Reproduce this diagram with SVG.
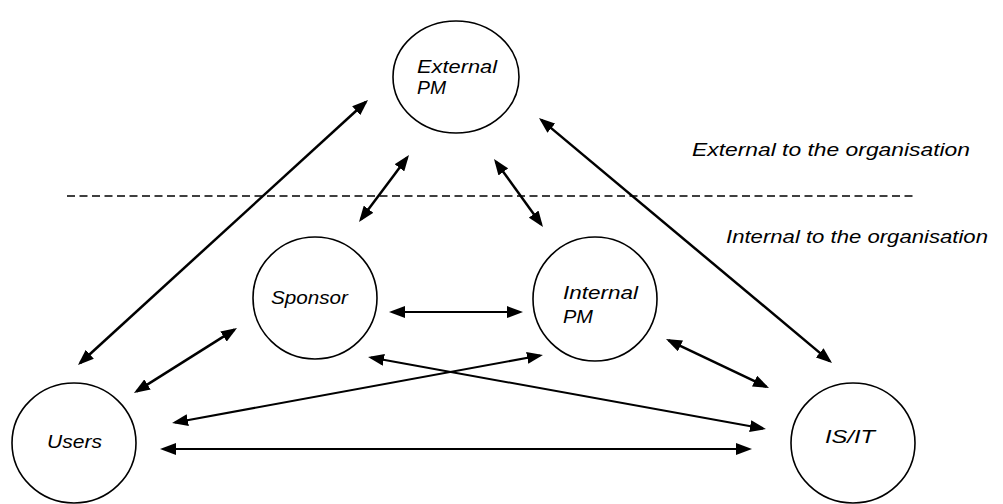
<svg xmlns="http://www.w3.org/2000/svg" width="1003" height="504" viewBox="0 0 1003 504">
<style>
.node{fill:#fff;stroke:#000;stroke-width:1.6}
.lbl{font-family:"Liberation Sans",Arial,sans-serif;font-size:19px;font-style:italic;fill:#000}
.a{fill:none;stroke:#000;stroke-width:2.5;marker-start:url(#ah);marker-end:url(#ah)}
.b{fill:none;stroke:#000;stroke-width:2;marker-start:url(#ah);marker-end:url(#ah)}
.dash{stroke:#000;stroke-width:1.5;stroke-dasharray:8 4.5}
</style>
<defs>
<marker id="ah" markerUnits="userSpaceOnUse" markerWidth="17" markerHeight="12" refX="13" refY="6" orient="auto-start-reverse">
<path d="M0,0 L16,6 L0,12 z" fill="#000"/>
</marker>
</defs>
<rect width="1003" height="504" fill="#fff"/>
<line class="dash" x1="67" y1="196" x2="917" y2="196"/>
<text class="lbl" x="692" y="156" textLength="278" lengthAdjust="spacingAndGlyphs">External to the organisation</text>
<text class="lbl" x="726" y="243" textLength="262" lengthAdjust="spacingAndGlyphs">Internal to the organisation</text>
<g id="connectors">
<line class="a" x1="80.2" y1="363" x2="365.8" y2="102"/>
<line class="a" x1="541.3" y1="119.9" x2="829.7" y2="361.1"/>
<line class="a" x1="407.2" y1="157.4" x2="360.8" y2="219.6"/>
<line class="a" x1="495.75" y1="161.4" x2="541.25" y2="224.6"/>
<line class="b" x1="392" y1="312" x2="520" y2="312"/>
<line class="a" x1="234.5" y1="329.6" x2="136.5" y2="391.4"/>
<line class="a" x1="668.7" y1="340.3" x2="766.3" y2="386.7"/>
<line class="b" x1="371" y1="357.5" x2="763" y2="428.5"/>
<line class="b" x1="175" y1="422.5" x2="540" y2="355.5"/>
<line class="b" x1="163" y1="449" x2="749" y2="449"/>
</g>
<g id="external-pm">
<ellipse class="node" cx="456" cy="77" rx="63" ry="56"/>
<text class="lbl" x="417" y="73" textLength="80" lengthAdjust="spacingAndGlyphs">External</text>
<text class="lbl" x="417" y="94" textLength="29" lengthAdjust="spacingAndGlyphs">PM</text>
</g>
<g id="sponsor">
<ellipse class="node" cx="315" cy="298" rx="62" ry="61"/>
<text class="lbl" x="271" y="304" textLength="77" lengthAdjust="spacingAndGlyphs">Sponsor</text>
</g>
<g id="internal-pm">
<ellipse class="node" cx="595" cy="299" rx="62" ry="62"/>
<text class="lbl" x="563" y="299" textLength="75" lengthAdjust="spacingAndGlyphs">Internal</text>
<text class="lbl" x="563" y="323" textLength="30" lengthAdjust="spacingAndGlyphs">PM</text>
</g>
<g id="users">
<ellipse class="node" cx="74" cy="443" rx="62" ry="60"/>
<text class="lbl" x="47" y="448" textLength="55" lengthAdjust="spacingAndGlyphs">Users</text>
</g>
<g id="is-it">
<ellipse class="node" cx="853" cy="443" rx="62" ry="60"/>
<text class="lbl" x="825" y="443" textLength="50" lengthAdjust="spacingAndGlyphs">IS/IT</text>
</g>
</svg>
